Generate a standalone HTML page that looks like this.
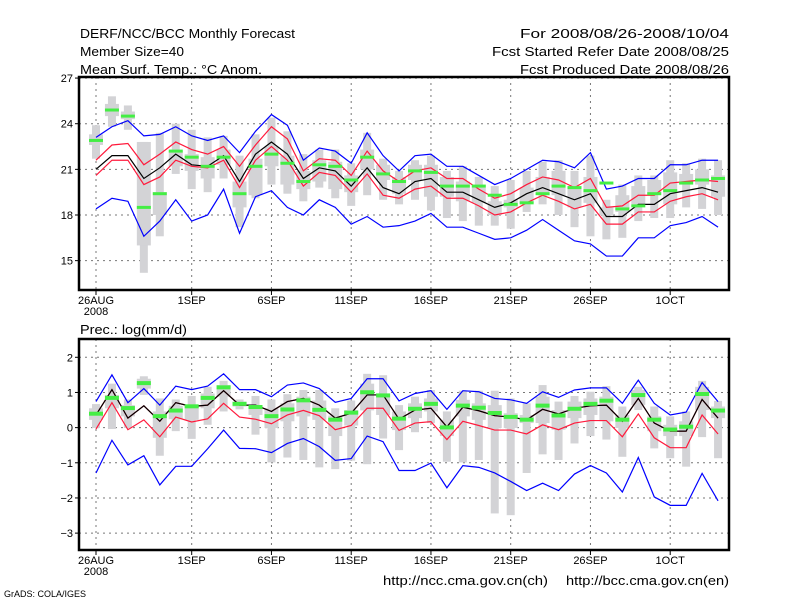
<!DOCTYPE html>
<html><head><meta charset="utf-8"><style>
body{margin:0;background:#fff;}
svg{display:block;font-family:"Liberation Sans",sans-serif;}
</style></head><body>
<svg id="c" width="800" height="600" viewBox="0 0 800 600"></svg>
<script>
// ---- shared x data ----
const xTickDays = [0,6,11,16,21,26,31,36];
const xTickLabels = ["26AUG","1SEP","6SEP","11SEP","16SEP","21SEP","26SEP","1OCT"];
// ---- temperature panel data (°C anomaly) ----
const tBlueHi = [23.1,23.8,24.2,23.2,23.3,23.8,23.2,22.9,23.2,22.1,23.5,24.6,23.9,21.6,22.4,22.2,21.4,23.4,21.9,20.9,21.9,22.0,21.2,21.2,20.6,20.0,20.4,21.0,21.6,21.5,21.1,22.1,19.7,19.9,20.4,20.4,21.3,21.3,21.6,21.6];
const tRedHi = [21.6,22.6,22.7,21.3,22.0,22.8,22.3,22.0,22.5,21.2,22.6,23.8,23.0,20.9,21.7,21.6,20.6,22.2,20.9,20.2,20.9,21.1,20.4,20.4,19.7,19.1,19.4,20.0,20.5,20.3,19.8,20.4,18.5,18.6,19.3,19.3,20.1,20.2,20.3,20.2];
const tMean = [21.0,21.9,21.9,20.4,21.1,22.0,21.3,21.2,21.9,20.2,22.0,22.8,22.0,20.4,21.1,20.9,19.9,21.1,19.8,19.4,20.2,20.4,19.5,19.5,19.0,18.5,18.8,19.4,19.8,19.4,19.0,19.4,17.9,17.9,18.7,18.7,19.4,19.6,19.8,19.5];
const tRedLo = [20.6,21.6,21.6,20.0,20.5,21.6,21.2,21.1,21.6,19.8,21.6,22.5,21.6,19.9,20.8,20.6,19.5,20.7,19.3,19.1,19.7,19.9,19.1,19.1,18.6,18.0,18.2,18.8,19.3,18.9,18.4,18.7,17.4,17.4,18.2,18.2,18.9,19.2,19.4,19.0];
const tBlueLo = [18.4,19.1,18.9,16.6,17.6,19.0,17.6,18.0,19.7,16.8,19.2,19.6,18.5,18.0,19.0,18.5,17.4,17.9,17.2,17.3,17.6,18.1,17.2,17.2,16.8,16.4,16.5,17.0,17.7,17.0,16.3,16.1,15.3,15.3,16.5,16.5,17.3,17.5,17.9,17.2];
const tObs = [22.9,24.9,24.5,18.5,19.4,22.2,21.8,21.2,21.8,19.4,21.2,22.0,21.4,20.2,21.3,21.2,20.3,21.8,20.7,20.2,20.9,20.8,19.9,19.9,19.9,19.3,18.7,18.8,19.4,19.9,19.8,19.6,20.1,18.4,18.6,19.4,19.6,20.1,20.3,20.4];
const tWhiskHi = [23.9,25.8,25.2,22.8,23.4,24.0,23.6,23.1,23.2,21.9,23.3,24.4,23.5,22.0,22.3,22.3,21.4,23.4,21.7,20.9,21.6,21.9,20.9,21.2,20.5,19.9,20.3,20.9,21.5,21.6,20.9,21.9,19.0,20.0,20.6,20.6,21.6,21.4,21.7,21.6];
const tWhiskLo = [21.7,23.8,23.6,14.2,16.6,20.7,19.7,19.5,20.4,17.2,19.1,20.0,19.4,18.9,19.8,19.1,18.6,19.3,19.0,18.7,19.0,18.3,17.8,17.6,17.3,17.3,17.1,18.2,18.7,18.0,17.2,16.6,16.4,16.5,17.6,17.8,17.8,18.5,18.4,18.0];
const tBoxHi = [23.3,25.3,24.8,22.8,19.5,22.2,22.0,21.8,22.3,20.2,21.7,22.5,21.9,20.9,21.6,21.5,20.6,22.3,21.3,20.5,21.3,21.3,20.5,20.2,19.8,18.9,19.0,19.8,20.5,20.9,19.9,20.5,18.5,19.3,19.9,20.3,20.8,20.7,21.0,20.6];
const tBoxLo = [22.6,24.5,24.3,16.0,18.0,21.2,20.9,20.4,21.3,18.5,19.3,21.2,20.0,19.7,20.2,19.7,19.5,21.0,20.3,19.4,20.3,19.2,19.2,18.9,18.8,18.0,18.5,18.8,19.5,19.3,18.5,18.8,18.0,18.2,18.7,19.4,18.7,20.0,20.0,19.2];
const tTicks = [27,24,21,18,15];
// ---- precipitation panel data (log mm/d) ----
const pBlueHi = [0.74,1.5,0.71,1.11,0.64,1.18,1.08,1.18,1.53,1.08,1.08,0.88,1.21,1.27,1.11,0.72,0.83,1.39,1.39,0.76,0.97,1.05,0.52,1.05,1.02,0.83,0.79,0.69,1.02,0.86,1.07,1.13,1.13,0.69,1.35,0.69,0.36,0.44,1.28,0.74];
const pMean = [0.36,1.08,0.27,0.62,0.18,0.71,0.6,0.64,1.05,0.64,0.64,0.46,0.74,0.83,0.64,0.27,0.41,0.93,0.93,0.24,0.5,0.55,0.02,0.58,0.48,0.34,0.3,0.22,0.52,0.39,0.55,0.62,0.64,0.18,0.83,0.13,-0.1,-0.1,0.8,0.27];
const pRedLo = [-0.04,0.71,-0.06,0.22,-0.26,0.3,0.16,0.25,0.69,0.3,0.24,0.11,0.36,0.49,0.34,-0.06,0.06,0.55,0.55,-0.08,0.13,0.17,-0.34,0.18,0.06,-0.07,-0.07,-0.18,0.08,-0.06,0.13,0.2,0.2,-0.26,0.39,-0.29,-0.57,-0.57,0.36,-0.18];
const pBlueLo = [-1.29,-0.36,-1.06,-0.8,-1.63,-1.1,-1.1,-0.6,-0.07,-0.59,-0.6,-0.71,-0.45,-0.31,-0.54,-0.93,-0.88,-0.24,-0.4,-1.22,-1.22,-1.01,-1.71,-1.08,-1.13,-1.29,-1.53,-1.79,-1.58,-1.79,-1.32,-1.08,-1.29,-1.83,-0.85,-1.97,-2.21,-2.21,-1.3,-2.08];
const pObs = [0.41,0.86,0.57,1.28,0.34,0.5,0.62,0.86,1.16,0.69,0.6,0.34,0.53,0.79,0.52,0.24,0.44,1.02,0.93,0.27,0.55,0.69,0.02,0.64,0.58,0.43,0.32,0.24,0.64,0.36,0.55,0.69,0.78,0.24,0.94,0.24,-0.04,0.04,0.97,0.5];
const pWhiskHi = [0.67,1.25,0.8,1.46,0.83,0.8,0.9,1.16,1.33,0.8,0.9,0.8,0.95,1.07,1.07,0.55,0.77,1.53,1.49,0.64,0.88,1.07,0.46,1.05,1.05,1.05,0.83,0.69,1.21,0.74,0.9,1.02,1.18,0.6,1.16,0.6,0.32,0.46,1.33,0.76];
const pWhiskLo = [-0.01,-0.04,-0.01,0.93,-0.8,-0.1,-0.32,0.08,0.46,0.52,-0.2,-0.99,-0.85,-0.92,-1.13,-1.18,-0.94,-1.04,-0.31,-0.64,-0.13,0.13,-0.97,-0.99,-0.92,-2.44,-2.49,-1.29,-0.76,-0.92,-0.45,-0.24,-0.34,-0.83,0.5,-0.59,-0.87,-1.11,-0.27,-0.87];
const pBoxHi = [0.55,0.93,0.64,1.39,0.46,0.62,0.64,0.97,1.21,0.74,0.64,0.55,0.69,0.88,0.77,0.34,0.5,1.25,0.97,0.46,0.69,0.83,0.22,0.79,0.69,0.64,0.41,0.36,0.88,0.5,0.74,0.83,0.88,0.36,1.07,0.32,0.08,0.18,1.16,0.6];
const pBoxLo = [0.22,0.55,0.32,1.11,-0.29,0.24,0.22,0.55,0.88,0.6,0.36,-0.01,0.18,0.32,0.22,-0.24,0.06,0.49,0.36,-0.07,0.27,0.46,-0.24,0.32,0.22,-0.01,-0.01,0.13,0.13,-0.06,0.27,0.36,0.18,-0.01,0.64,-0.1,-0.24,-0.24,0.5,0.27];
const pTicks = [2,1,0,-1,-2,-3];

const NS="http://www.w3.org/2000/svg";
const svg=document.getElementById('c');
function mk(tag,attrs,parent){const e=document.createElementNS(NS,tag);for(const k in attrs)e.setAttribute(k,attrs[k]);(parent||svg).appendChild(e);return e;}
function txt(s,x,y,size,anchor,name,parent,len){const t=mk('text',{x:x,y:y,'font-size':size,'text-anchor':anchor||'start',fill:'#000'},parent);t.textContent=s;
if(len){t.setAttribute('textLength',len);t.setAttribute('lengthAdjust','spacingAndGlyphs');}


return t;}
const L=79,R=729;
const xs=d=>96+d*15.95;

function panel(name,top,bot,vTop,vBot,ticks,series){
  const g=mk('g',{});
  
  
  const ys=v=>top+(vTop-v)/(vTop-vBot)*(bot-top);
  ticks.forEach(v=>{const l=mk('line',{x1:L,x2:R,y1:ys(v),y2:ys(v),stroke:'#777','stroke-width':1,'stroke-dasharray':'2,4'},g);
    
    
    mk('line',{x1:L-4,x2:L,y1:ys(v),y2:ys(v),stroke:'#000'},g);
    txt(v<0?'\u2212'+(-v):String(v),L-6,ys(v)+4,11,'end','y-tick-label',g);});
  xTickDays.forEach((d,i)=>{const l=mk('line',{x1:xs(d),x2:xs(d),y1:top,y2:bot,stroke:'#777','stroke-width':1,'stroke-dasharray':'2,4'},g);
    
    
    mk('line',{x1:xs(d),x2:xs(d),y1:bot,y2:bot+5,stroke:'#000'},g);
    txt(xTickLabels[i],xs(d),bot+14,11,'middle','x-tick-label',g);});
  txt('2008',xs(0),bot+25,11,'middle','x-year-label',g);
  for(let i=0;i<series.wh.length;i++){
    const x=xs(i);
    const w=mk('rect',{x:x-4,y:ys(series.wh[i]),width:8,height:ys(series.wl[i])-ys(series.wh[i]),fill:'#d3d3d6'},g);
    
    
    const b=mk('rect',{x:x-7,y:ys(series.bh[i]),width:14,height:ys(series.bl[i])-ys(series.bh[i]),fill:'#d3d3d6'},g);
    
    
  }
  const line=(arr,col,nm)=>{const p=mk('polyline',{points:arr.map((v,i)=>xs(i)+','+ys(v)).join(' '),fill:'none',stroke:col,'stroke-width':1.2},g);
    
    };
  line(series.bhi,'#0000ff','upper-bound-line');
  line(series.blo,'#0000ff','lower-bound-line');
  line(series.rhi,'#ff1a3c','upper-std-line');
  line(series.rlo,'#ff1a3c','lower-std-line');
  line(series.m,'#000','ensemble-mean-line');
  series.o.forEach((v,i)=>{const r=mk('rect',{x:xs(i)-7,y:ys(v)-1.5,width:14,height:series.oh,fill:'#44ee44'},g);
    
    });
  const f=mk('rect',{x:L,y:top,width:R-L,height:bot-top,fill:'none',stroke:'#000','stroke-width':2.5},g);
  
  
}
panel('temperature-panel',77,290,27.07,13.07,tTicks,{wh:tWhiskHi,wl:tWhiskLo,bh:tBoxHi,bl:tBoxLo,bhi:tBlueHi,blo:tBlueLo,rhi:tRedHi,rlo:tRedLo,m:tMean,o:tObs,oh:3});
panel('precip-panel',339,550,2.52,-3.48,pTicks,{wh:pWhiskHi,wl:pWhiskLo,bh:pBoxHi,bl:pBoxLo,bhi:pBlueHi,blo:pBlueLo,rhi:pMean,rlo:pRedLo,m:pMean,o:pObs,oh:4});

txt('DERF/NCC/BCC Monthly Forecast',80,38,13,'start','title',null,215);
txt('Member Size=40',80,56,13,'start','member-size',null,104);
txt('Mean Surf. Temp.: \u00b0C Anom.',80,74,13,'start','temp-panel-title',null,182);
txt('For 2008/08/26-2008/10/04',729,38,13,'end','forecast-period',null,209);
txt('Fcst Started Refer Date 2008/08/25',729,56,13,'end','start-date',null,237);
txt('Fcst Produced Date 2008/08/26',729,74,13,'end','produced-date',null,209);
txt('Prec.: log(mm/d)',80,334,13,'start','precip-panel-title',null,107);
txt('http://ncc.cma.gov.cn(ch)',383,585,13,'start','ncc-url',null,165);
txt('http://bcc.cma.gov.cn(en)',566,585,13,'start','bcc-url',null,163);
txt('GrADS: COLA/IGES',4,597,9,'start','grads-credit');
</script>
</body></html>
